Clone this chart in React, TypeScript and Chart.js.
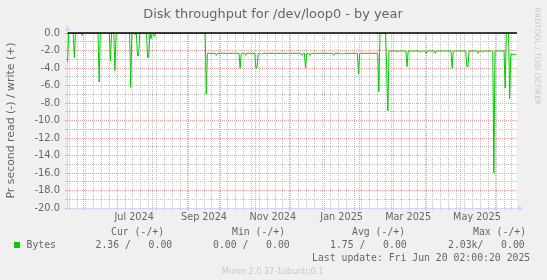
import React, { useEffect, useRef } from "react";
import { Chart, registerables } from "chart.js";

Chart.register(...registerables);

// ---- data -------------------------------------------------------------
// x values are days since 2024-05-16 (start of the 400-day "year" window)
const START_UTC = Date.UTC(2024, 4, 16);
const X_MIN = 1.5;
const X_MAX = 400.5;

// key samples of the plotted read series (read is drawn negative)
const readDays = [
  2, 3, 7, 8, 9, 14, 15, 16, 29, 30, 31, 39, 40, 41, 43, 44, 45, 46,
  57, 58, 59, 61, 62, 63, 64, 65, 66, 72, 73, 74, 75, 76, 77, 78, 79, 80, 81,
  124, 125, 126, 133, 134, 135, 154, 155, 156, 159, 160, 161,
  168, 169, 170, 171, 173, 174, 175, 209, 210, 211, 212, 213, 214,
  216, 217, 218, 237, 238, 239, 245, 246, 247, 259, 260, 261,
  277, 278, 279, 284, 286, 287, 293, 294, 295, 302, 303, 304,
  314, 315, 316, 319, 320, 321, 327, 328, 329, 342, 343, 344,
  355, 356, 357, 358, 365, 366, 367, 369, 370, 371,
  379, 380, 381, 389, 390, 391, 393, 394, 395, 400,
];
const readValues = [
  -3.3, 0, 0, -2.8, 0, 0, -0.3, 0, 0, -5.6, 0, 0, -3.2, 0, 0, -4.3, -0.2, 0,
  0, -6.2, 0, 0, -0.2, 0, -2.6, -2.6, 0, 0, -2.8, -2.8, 0, -0.65, 0, 0, -0.4, -0.1, 0,
  0, -7.0, -2.32, -2.32, -2.55, -2.32, -2.32, -4.05, -2.32, -2.32, -2.55, -2.32,
  -2.32, -4.0, -4.0, -2.32, -2.32, -2.45, -2.32, -2.32, -2.55, -2.32, -2.32, -4.0, -2.32,
  -2.32, -2.55, -2.32, -2.32, -2.55, -2.32, -2.32, -2.45, -2.32, -2.32, -4.65, -2.32,
  -2.32, -6.7, 0, 0, -8.9, -2.06, -2.06, -2.15, -2.06, -2.06, -3.85, -2.06,
  -2.06, -2.2, -2.06, -2.06, -2.32, -2.06, -2.06, -2.32, -2.06, -2.06, -4.05, -2.06,
  -2.06, -3.85, -3.85, -2.06, -2.06, -2.3, -2.06, -2.06, -2.2, -2.06,
  -2.06, -16.0, -2.06, -2.06, -6.3, 0, 0, -7.5, -2.43, -2.43,
];

const Y_MIN = -20;
const Y_MAX = 0;
const HRULE_VALUE = 0;

const xLabelDates = ["2024-07-16", "2024-09-16", "2024-11-16", "2025-01-16", "2025-03-16", "2025-05-16"];
const xLabelTexts = ["Jul 2024", "Sep 2024", "Nov 2024", "Jan 2025", "Mar 2025", "May 2025"];

const titleText = "Disk throughput for /dev/loop0 - by year";
const yTitleText = "Pr second read (-) / write (+)";
const seriesName = "Bytes";
const legendHeaders = ["Cur (-/+)", "Min (-/+)", "Avg (-/+)", "Max (-/+)"];
const legendValues = ["2.36 /   0.00", "0.00 /   0.00", "1.75 /   0.00", "2.03k/   0.00"];
const lastUpdateText = "Last update: Fri Jun 20 02:00:20 2025";
const rrdWatermark = "RRDTOOL / TOBI OETIKER";
const muninWatermark = "Munin 2.0.37-1ubuntu0.1";

// ---- styling ----------------------------------------------------------
const BACK = "#F0F0F0";
const CANVAS = "#FFFFFF";
const FONT_COLOR = "#666666";
const AXIS_COLOR = "#CFD6F8";
const MGRID = "#F2A2A2";
const GRID = "#C2C2C2";
const LINE_COLOR = "#00CC00";
const WATER = "#C8C8C8";
const SANS = "'DejaVu Sans', sans-serif";
const MONO = "'DejaVu Sans Mono', monospace";

function dayIndex(iso: string) {
  const [y, m, d] = iso.split("-").map(Number);
  return (Date.UTC(y, m - 1, d) - START_UTC) / 86400000;
}

function buildXTicks() {
  const ticks: any[] = [];
  let y = 2024, m = 4;
  for (;;) {
    const v = (Date.UTC(y, m, 1) - START_UTC) / 86400000;
    if (v > X_MAX) break;
    if (v >= X_MIN) ticks.push({ value: v, kind: "major" });
    m++;
    if (m > 11) { m = 0; y++; }
  }
  const majors = new Set(ticks.map((t) => t.value));
  // weekly minor grid on Mondays (2024-05-20 is a Monday)
  for (let v = dayIndex("2024-05-20"); v <= X_MAX; v += 7) {
    if (!majors.has(v)) ticks.push({ value: v, kind: "minor" });
  }
  xLabelDates.forEach((d, i) => ticks.push({ value: dayIndex(d), kind: "label", text: xLabelTexts[i] }));
  ticks.sort((a, b) => a.value - b.value);
  return ticks;
}

function buildYTicks() {
  const ticks: any[] = [];
  for (let v = Y_MAX; v >= Y_MIN; v -= 1) {
    ticks.push({ value: v, kind: v % 2 === 0 ? "major" : "minor" });
  }
  return ticks;
}

function gridColor(tick: any) {
  if (!tick) return "rgba(0,0,0,0)";
  if (tick.kind === "major") return MGRID;
  if (tick.kind === "minor") return GRID;
  return "rgba(0,0,0,0)";
}

const muninPlugin = {
  id: "muninDecor",
  beforeDraw(chart: any) {
    const { ctx, chartArea: a } = chart;
    ctx.save();
    ctx.fillStyle = BACK;
    ctx.fillRect(0, 0, chart.width, chart.height);
    ctx.fillStyle = CANVAS;
    ctx.fillRect(a.left, a.top, a.right - a.left, a.bottom - a.top);
    ctx.restore();
  },
  afterDatasetsDraw(chart: any) {
    const { ctx, chartArea: a, scales } = chart;
    const y0 = scales.y.getPixelForValue(HRULE_VALUE);
    ctx.save();
    ctx.strokeStyle = "#000000";
    ctx.lineWidth = 1.4;
    ctx.beginPath();
    ctx.moveTo(a.left, y0);
    ctx.lineTo(a.right, y0);
    ctx.stroke();
    ctx.restore();
  },
  afterDraw(chart: any) {
    const { ctx, chartArea: a } = chart;
    ctx.save();
    // axis extensions and arrows
    ctx.strokeStyle = AXIS_COLOR;
    ctx.fillStyle = AXIS_COLOR;
    ctx.lineWidth = 1;
    const ax = Math.round(a.left) + 0.5;
    const ay = Math.round(a.bottom) + 0.5;
    ctx.beginPath();
    ctx.moveTo(ax, a.top);
    ctx.lineTo(ax, a.top - 3);
    ctx.moveTo(a.right, ay);
    ctx.lineTo(a.right + 2, ay);
    ctx.stroke();
    ctx.beginPath();
    ctx.moveTo(ax - 3, a.top - 2);
    ctx.lineTo(ax + 3, a.top - 2);
    ctx.lineTo(ax, a.top - 7.5);
    ctx.closePath();
    ctx.fill();
    ctx.beginPath();
    ctx.moveTo(a.right + 1, ay - 3);
    ctx.lineTo(a.right + 1, ay + 3);
    ctx.lineTo(a.right + 6.5, ay);
    ctx.closePath();
    ctx.fill();

    // title
    ctx.fillStyle = FONT_COLOR;
    ctx.textBaseline = "alphabetic";
    ctx.textAlign = "center";
    ctx.font = `12.9px ${SANS}`;
    ctx.fillText(titleText, 273, 17.7);

    // vertical axis title
    ctx.save();
    ctx.translate(13.7, (a.top + a.bottom) / 2);
    ctx.rotate(-Math.PI / 2);
    ctx.font = `10.9px ${SANS}`;
    ctx.fillText(yTitleText, 0, 0);
    ctx.restore();

    // rrdtool watermark on the right
    ctx.save();
    ctx.translate(534.5, 56.5);
    ctx.rotate(Math.PI / 2);
    ctx.fillStyle = WATER;
    ctx.font = `7.6px ${SANS}`;
    ctx.fillText(rrdWatermark, 0, 0);
    ctx.restore();

    // legend
    ctx.font = `9.8px ${MONO}`;
    ctx.textAlign = "left";
    ctx.fillStyle = FONT_COLOR;
    const headerX = [111, 232, 352, 473];
    const valueX = [95.5, 213, 330, 448];
    legendHeaders.forEach((t, i) => ctx.fillText(t, headerX[i], 235));
    ctx.fillText(seriesName, 26.5, 248);
    legendValues.forEach((t, i) => ctx.fillText(t, valueX[i], 248));
    ctx.fillText(lastUpdateText, 312, 260.5);
    ctx.fillStyle = LINE_COLOR;
    ctx.fillRect(14, 242, 6, 6);

    // munin watermark
    ctx.fillStyle = WATER;
    ctx.textAlign = "center";
    ctx.font = `8px ${SANS}`;
    ctx.fillText(muninWatermark, 272.5, 274);
    ctx.restore();
  },
};

export default function App() {
  const ref = useRef<HTMLCanvasElement | null>(null);

  useEffect(() => {
    const canvas = ref.current;
    if (!canvas) return;
    const points = readDays.map((d, i) => ({ x: d, y: readValues[i] }));
    const chart = new Chart(canvas, {
      type: "line",
      data: {
        datasets: [
          {
            label: seriesName,
            data: points,
            borderColor: LINE_COLOR,
            backgroundColor: LINE_COLOR,
            borderWidth: 1,
            pointRadius: 0,
            tension: 0,
            fill: false,
          },
        ],
      },
      options: {
        responsive: false,
        animation: false,
        devicePixelRatio: 1,
        events: [],
        layout: { padding: { top: 33, right: 30, left: 0, bottom: 0 } },
        plugins: {
          legend: { display: false },
          title: { display: false },
          tooltip: { enabled: false },
        },
        scales: {
          x: {
            type: "linear",
            min: X_MIN,
            max: X_MAX,
            afterBuildTicks: (s: any) => { s.ticks = buildXTicks(); },
            afterFit: (s: any) => { s.height = 72; },
            ticks: {
              autoSkip: false,
              maxRotation: 0,
              minRotation: 0,
              padding: 2,
              color: FONT_COLOR,
              font: { family: SANS, size: 9.7 },
              callback: (_v: any, i: number, ticks: any[]) => (ticks[i].kind === "label" ? ticks[i].text : ""),
            },
            grid: {
              color: (c: any) => gridColor(c.tick),
              tickColor: (c: any) => gridColor(c.tick),
              tickLength: 2,
              lineWidth: 1,
            },
            border: { display: true, color: AXIS_COLOR, width: 1, dash: [1, 1] },
          },
          y: {
            type: "linear",
            min: Y_MIN,
            max: Y_MAX,
            afterBuildTicks: (s: any) => { s.ticks = buildYTicks(); },
            afterFit: (s: any) => { s.width = 67; },
            ticks: {
              autoSkip: false,
              padding: 5,
              color: FONT_COLOR,
              font: { family: SANS, size: 9.9 },
              callback: (v: any, i: number, ticks: any[]) => (ticks[i].kind === "major" ? Number(v).toFixed(1) : ""),
            },
            grid: {
              color: (c: any) => gridColor(c.tick),
              tickColor: (c: any) => gridColor(c.tick),
              tickLength: 2,
              lineWidth: 1,
            },
            border: { display: true, color: AXIS_COLOR, width: 1, dash: [1, 1] },
          },
        },
      },
      plugins: [muninPlugin],
    } as any);
    return () => chart.destroy();
  }, []);

  return (
    <div style={{ position: "fixed", left: 0, top: 0, width: 547, height: 280, background: BACK }}>
      <canvas ref={ref} width={547} height={280} style={{ display: "block", width: 547, height: 280 }} />
    </div>
  );
}
